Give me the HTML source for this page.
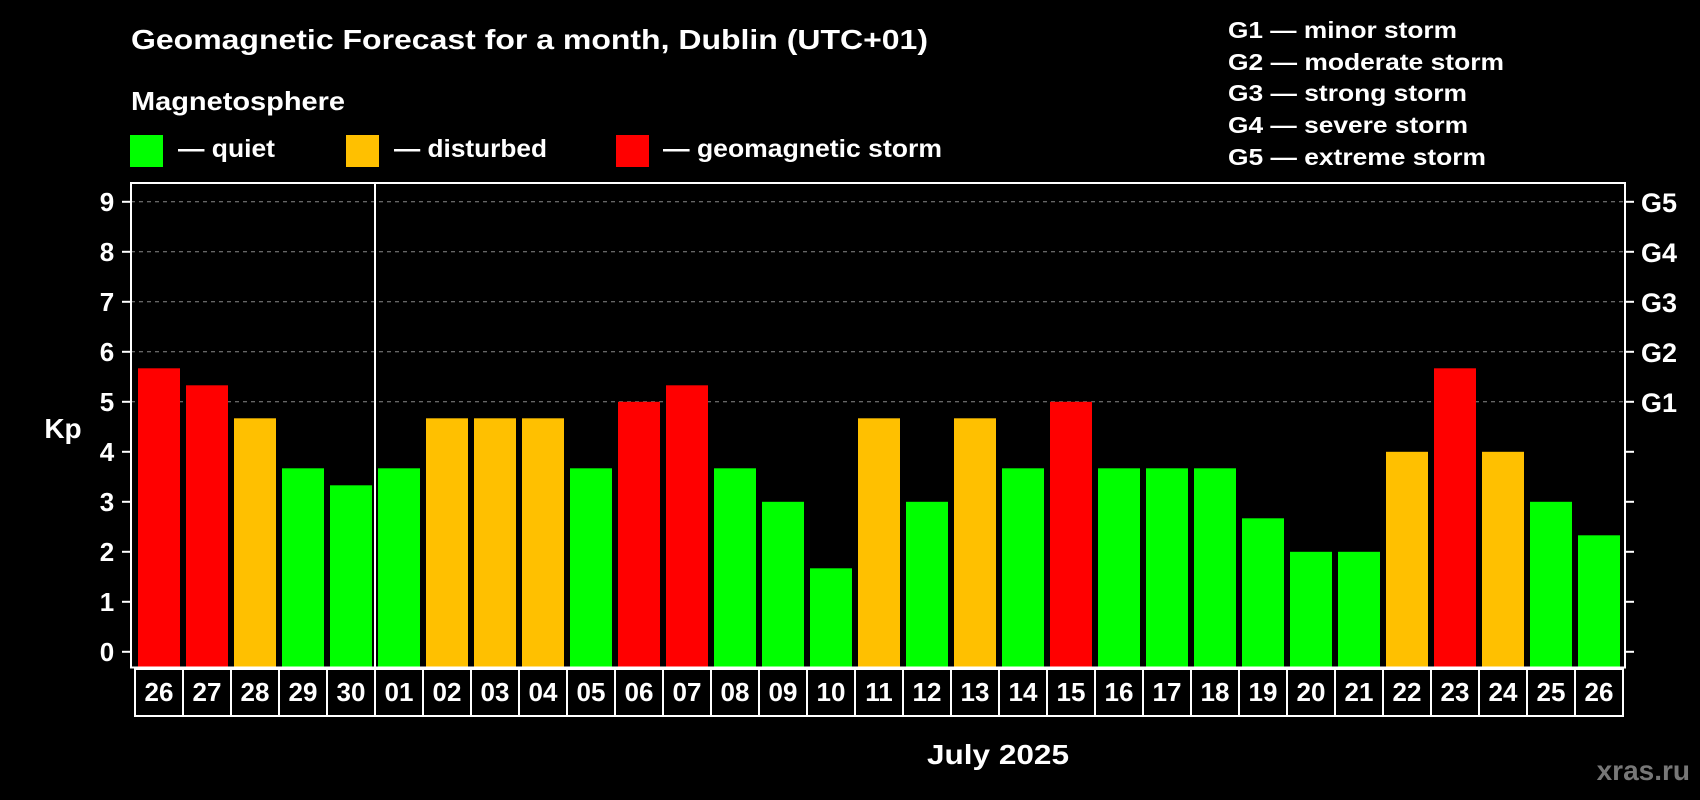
<!DOCTYPE html>
<html><head><meta charset="utf-8"><style>
html,body{margin:0;padding:0;background:#000;}
svg{display:block;font-family:"Liberation Sans",Arial,sans-serif;font-weight:bold;}
</style></head><body>
<svg id="chart" width="1700" height="800" viewBox="0 0 1700 800">
<rect x="0" y="0" width="1700" height="800" fill="#000"/>
<text x="131" y="49" font-size="28" fill="#fff" textLength="797" lengthAdjust="spacingAndGlyphs">Geomagnetic Forecast for a month, Dublin (UTC+01)</text>
<text x="131" y="110" font-size="26" fill="#fff" textLength="214" lengthAdjust="spacingAndGlyphs">Magnetosphere</text>
<g>
<rect x="130" y="135" width="33" height="32" fill="#00ff00"/>
<text x="178" y="157" font-size="25" fill="#fff" textLength="97" lengthAdjust="spacingAndGlyphs">— quiet</text></g>
<g>
<rect x="346" y="135" width="33" height="32" fill="#ffc000"/>
<text x="394" y="157" font-size="25" fill="#fff" textLength="153" lengthAdjust="spacingAndGlyphs">— disturbed</text></g>
<g>
<rect x="616" y="135" width="33" height="32" fill="#ff0000"/>
<text x="663" y="157" font-size="25" fill="#fff" textLength="279" lengthAdjust="spacingAndGlyphs">— geomagnetic storm</text></g>
<g font-size="23" fill="#fff">
<text x="1228" y="38" textLength="229" lengthAdjust="spacingAndGlyphs">G1 — minor storm</text>
<text x="1228" y="70" textLength="276" lengthAdjust="spacingAndGlyphs">G2 — moderate storm</text>
<text x="1228" y="101" textLength="239" lengthAdjust="spacingAndGlyphs">G3 — strong storm</text>
<text x="1228" y="133" textLength="240" lengthAdjust="spacingAndGlyphs">G4 — severe storm</text>
<text x="1228" y="165" textLength="258" lengthAdjust="spacingAndGlyphs">G5 — extreme storm</text>
</g>
<g id="grid"></g><g id="bars"></g><g id="axes"></g><g id="labels"></g>
<text x="63" y="438" font-size="28" fill="#fff" text-anchor="middle">Kp</text>
<text x="998" y="764" font-size="28" fill="#fff" text-anchor="middle" textLength="142" lengthAdjust="spacingAndGlyphs">July 2025</text>
<text x="1690" y="780" font-size="28" fill="#777" text-anchor="end">xras.ru</text>
</svg>
<script>
const days = ["26","27","28","29","30","01","02","03","04","05","06","07","08","09","10","11","12","13","14","15","16","17","18","19","20","21","22","23","24","25","26"];
const kpValues = [5.67,5.33,4.67,3.67,3.33,3.67,4.67,4.67,4.67,3.67,5,5.33,3.67,3,1.67,4.67,3,4.67,3.67,5,3.67,3.67,3.67,2.67,2,2,4,5.67,4,3,2.33];
const yTicks = [0,1,2,3,4,5,6,7,8,9];
const gLabels = ["G1","G2","G3","G4","G5"];
const monthBreakIndex = 5;

const NS="http://www.w3.org/2000/svg";
const L=131, R=1625, T=183, B=667.5, PITCH=48, BARX0=138, BARW=42;
const y = v => 651.8 - v*50;
const x = i => BARX0 + i*PITCH;
function mk(tag, attrs, parent){const e=document.createElementNS(NS,tag);for(const k in attrs)e.setAttribute(k,attrs[k]);parent.appendChild(e);return e;}
const grid=document.getElementById('grid'), bars=document.getElementById('bars'), axes=document.getElementById('axes'), labels=document.getElementById('labels');
function color(v){return v>=5?"#ff0000":(v>=4?"#ffc000":"#00ff00");}

yTicks.forEach(t=>{
  if(t>=5){const g=mk('line',{x1:L,x2:R,y1:y(t),y2:y(t),stroke:"#888","stroke-width":1,"stroke-dasharray":"4,4"},grid);
  
  }
  const tk=mk('line',{x1:L-9,x2:L,y1:y(t),y2:y(t),stroke:"#fff","stroke-width":2},axes);
  
  
  const tr=mk('line',{x1:R,x2:R+9,y1:y(t),y2:y(t),stroke:"#fff","stroke-width":2},axes);
  
  
  const lb=mk('text',{x:107,y:y(t)+9,"font-size":26,fill:"#fff","text-anchor":"middle"},axes);
  lb.textContent=t;
  
  
});
gLabels.forEach((g,i)=>{
  const t=mk('text',{x:1641,y:y(5+i)+10,"font-size":27,fill:"#fff"},axes);
  t.textContent=g;
  
  
});
kpValues.forEach((v,i)=>{
  const b=mk('rect',{x:x(i),y:y(v),width:BARW,height:B-y(v),fill:color(v)},bars);
  
  
});
const frame=mk('rect',{x:L,y:T,width:R-L,height:B-T,fill:"none",stroke:"#fff","stroke-width":2},axes);


const mb=x(monthBreakIndex)-3;
const div=mk('line',{x1:mb,x2:mb,y1:T,y2:B,stroke:"#fff","stroke-width":2},axes);


days.forEach((d,i)=>{
  const cx=135+i*PITCH;
  const c=mk('rect',{x:cx,y:669,width:PITCH,height:47,fill:"none",stroke:"#fff","stroke-width":2},labels);
  
  
  const t=mk('text',{x:cx+PITCH/2,y:701,"font-size":26,fill:"#fff","text-anchor":"middle"},labels);
  t.textContent=d;
  
  
});
</script>
</body></html>
